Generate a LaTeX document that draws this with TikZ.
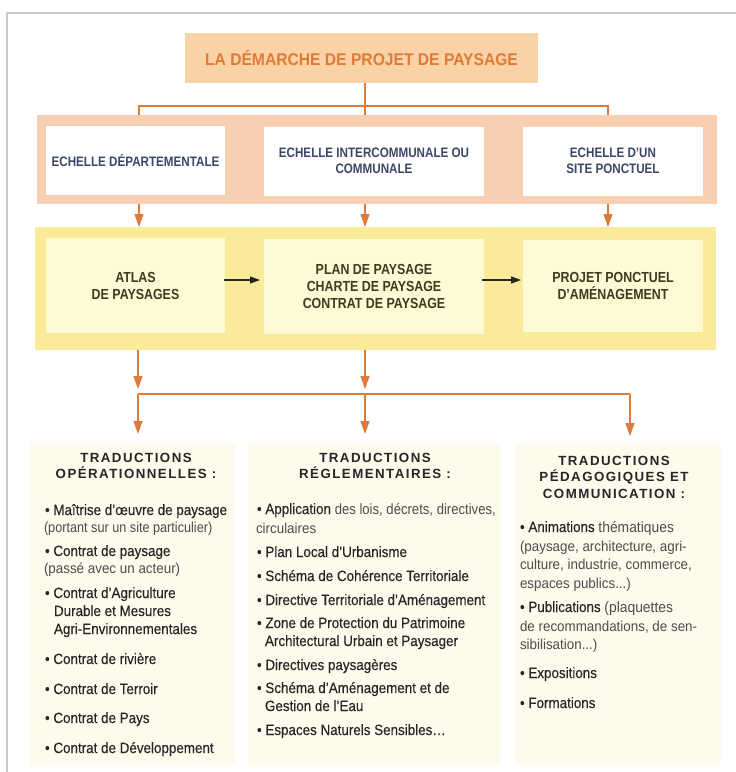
\documentclass[tikz,border=0pt]{standalone}
\usepackage{fontspec}
\setmainfont{Liberation Sans}
\newfontfamily\condfont[FakeStretch=0.85]{Liberation Sans}
\newfontfamily\titlefont[FakeStretch=0.92]{Liberation Sans}
\newfontfamily\headfont[LetterSpace=11]{Liberation Sans}
\newfontfamily\itemfont[FakeStretch=0.9,FakeBold=0.3]{Liberation Sans}
\newfontfamily\descfont[FakeStretch=0.93]{Liberation Sans}
\newfontfamily\narrowdesc[FakeStretch=0.88]{Liberation Sans}
\usetikzlibrary{arrows.meta}
\definecolor{peach}{HTML}{FAD2A8}
\definecolor{salmon}{HTML}{F9CFB2}
\definecolor{ybar}{HTML}{F9EB9A}
\definecolor{ybox}{HTML}{FEFAD4}
\definecolor{cream}{HTML}{FDFBEC}
\definecolor{conn}{HTML}{DD7A3E}
\definecolor{titlec}{HTML}{E07B35}
\definecolor{navy}{HTML}{3A4868}
\definecolor{olive}{HTML}{3C3C22}
\definecolor{ink}{HTML}{262626}
\definecolor{soft}{HTML}{4D4D4D}
\definecolor{framec}{HTML}{C8C8C8}
\newcommand{\dsc}[1]{{\descfont\color{soft}#1}}
\newcommand{\ndsc}[1]{{\narrowdesc\color{soft}#1}}
\tikzset{
  frameline/.style={draw=framec, line width=1.3pt},
  connline/.style={draw=conn, line width=1.2pt},
  carrow/.style={connline, -{Triangle[length=13pt,width=9pt]}},
  darrow/.style={draw=ink, line width=1.1pt, -{Triangle[length=10pt,width=7pt]}},
  topbox/.style={fill=white, align=center, text=navy,
    font=\condfont\bfseries\fontsize{13.7}{16}\selectfont},
  ybx/.style={fill=ybox, align=center, text=olive,
    font=\condfont\bfseries\fontsize{14.6}{17}\selectfont},
  panel/.style={fill=cream},
  head/.style={align=center, text=ink,
    font=\headfont\bfseries\fontsize{13.3}{16.5}\selectfont},
  item/.style={anchor=base west, text=ink,
    font=\itemfont\fontsize{14.9}{16}\selectfont},
  desc/.style={anchor=base west, text=soft,
    font=\descfont\fontsize{14.4}{16}\selectfont}
}
\begin{document}
\begin{tikzpicture}[x=1pt,y=-1pt, every node/.style={inner sep=0pt, outer sep=0pt}]
\useasboundingbox (0,0) rectangle (736,772);
\fill[white] (0,0) rectangle (736,772);
\draw[frameline] (7,772) -- (7,13) -- (736,13);

% title
\node (title) [fill=peach, minimum width=353pt, minimum height=50pt, text=titlec,
  font=\titlefont\bfseries\fontsize{17}{18}\selectfont] at (361.5,58) {LA DÉMARCHE DE PROJET DE PAYSAGE};

% scale band
\node (band1) [fill=salmon, minimum width=680pt, minimum height=89pt] at (377,159.5) {};
\node (e1) [topbox, minimum width=179pt, minimum height=69pt] at (135.5,160.5) {ECHELLE DÉPARTEMENTALE};
\node (e2) [topbox, minimum width=220pt, minimum height=69pt] at (374,161) {ECHELLE INTERCOMMUNALE OU\\COMMUNALE};
\node (e3) [topbox, minimum width=180pt, minimum height=69pt] at (613,161) {ECHELLE D’UN\\SITE PONCTUEL};

% tools band
\node (band2) [fill=ybar, minimum width=681pt, minimum height=123pt] at (375.5,288.5) {};
\node (a1) [ybx, minimum width=179pt, minimum height=95pt] at (135.5,285.5) {ATLAS\\DE PAYSAGES};
\node (a2) [ybx, minimum width=220pt, minimum height=95pt] at (374,286.5) {PLAN DE PAYSAGE\\CHARTE DE PAYSAGE\\CONTRAT DE PAYSAGE};
\node (a3) [ybx, minimum width=180pt, minimum height=92pt] at (613,286) {PROJET PONCTUEL\\D’AMÉNAGEMENT};

% connectors top
\coordinate (jL) at (139,106);
\coordinate (jM) at (365,106);
\coordinate (jR) at (608,106);
\draw[connline] (title.south -| jM) -- (jM);
\draw[connline] (band1.north -| jL) |- (jR) -- (band1.north -| jR);
\draw[connline] (jM) -- (band1.north -| jM);
\draw[carrow] (band1.south -| jL) -- (band2.north -| jL);
\draw[carrow] (band1.south -| jM) -- (band2.north -| jM);
\draw[carrow] (band1.south -| jR) -- (band2.north -| jR);

% horizontal dark arrows
\coordinate (hy) at (0,280);
\draw[darrow, shorten <=-1pt, shorten >=4pt] (a1.east |- hy) -- (a2.west |- hy);
\draw[darrow, shorten <=-2pt, shorten >=2pt] (a2.east |- hy) -- (a3.west |- hy);

% panels
\node (p1) [panel, minimum width=205pt, minimum height=322pt] at (132.5,604) {};
\node (p2) [panel, minimum width=252pt, minimum height=322pt] at (374,604) {};
\node (p3) [panel, minimum width=206pt, minimum height=322pt] at (618,604) {};

% lower connectors
\coordinate (kL) at (138,394);
\coordinate (kM) at (365,394);
\coordinate (kR) at (630,394);
\draw[carrow, shorten >=5pt] (band2.south -| kL) -- (kL);
\draw[carrow, shorten >=5pt] (band2.south -| kM) -- (kM);
\draw[connline] (kL) -- (kR);
\draw[carrow, shorten >=9pt] (kL) -- (p1.north -| kL);
\draw[carrow, shorten >=9pt] (kM) -- (p2.north -| kM);
\draw[carrow, shorten >=7pt] (kR) -- (p3.north -| kR);

% headings
\node (h1) [head] at (136,466) {TRADUCTIONS\\OPÉRATIONNELLES :};
\node (h2) [head] at (375,466) {TRADUCTIONS\\RÉGLEMENTAIRES :};
\node (h3) [head] at (614,477) {TRADUCTIONS\\PÉDAGOGIQUES ET\\COMMUNICATION :};

% panel 1 items
\node (i11) [item] at (45,515) {• Maîtrise d’œuvre de paysage};
\node (i12) [desc] at (44,532) {\ndsc{(portant sur un site particulier)}};
\node (i13) [item] at (45,556) {• Contrat de paysage};
\node (i14) [desc] at (44,573) {(passé avec un acteur)};
\node (i15) [item] at (45,598) {• Contrat d’Agriculture};
\node (i16) [item] at (54,616) {Durable et Mesures};
\node (i17) [item] at (54,634) {Agri-Environnementales};
\node (i18) [item] at (45,664) {• Contrat de rivière};
\node (i19) [item] at (45,694) {• Contrat de Terroir};
\node (i1a) [item] at (45,723) {• Contrat de Pays};
\node (i1b) [item] at (45,753) {• Contrat de Développement};

% panel 2 items
\node (i21) [item] at (257,514) {• Application \ndsc{des lois, décrets, directives,}};
\node (i22) [desc] at (256,533) {circulaires};
\node (i23) [item] at (257,557) {• Plan Local d’Urbanisme};
\node (i24) [item] at (257,581) {• Schéma de Cohérence Territoriale};
\node (i25) [item] at (257,605) {• Directive Territoriale d’Aménagement};
\node (i26) [item] at (257,628) {• Zone de Protection du Patrimoine};
\node (i27) [item] at (265,646) {Architectural Urbain et Paysager};
\node (i28) [item] at (257,670) {• Directives paysagères};
\node (i29) [item] at (257,693) {• Schéma d’Aménagement et de};
\node (i2a) [item] at (265,711) {Gestion de l’Eau};
\node (i2b) [item] at (257,735) {• Espaces Naturels Sensibles…};

% panel 3 items
\node (i31) [item] at (520,532) {• Animations \dsc{thématiques}};
\node (i32) [desc] at (520,551) {(paysage, architecture, agri-};
\node (i33) [desc] at (520,569) {culture, industrie, commerce,};
\node (i34) [desc] at (520,588) {espaces publics...)};
\node (i35) [item] at (520,612) {• Publications \dsc{(plaquettes}};
\node (i36) [desc] at (520,631) {de recommandations, de sen-};
\node (i37) [desc] at (520,649) {sibilisation...)};
\node (i38) [item] at (520,678) {• Expositions};
\node (i39) [item] at (520,708) {• Formations};
\end{tikzpicture}
\end{document}
